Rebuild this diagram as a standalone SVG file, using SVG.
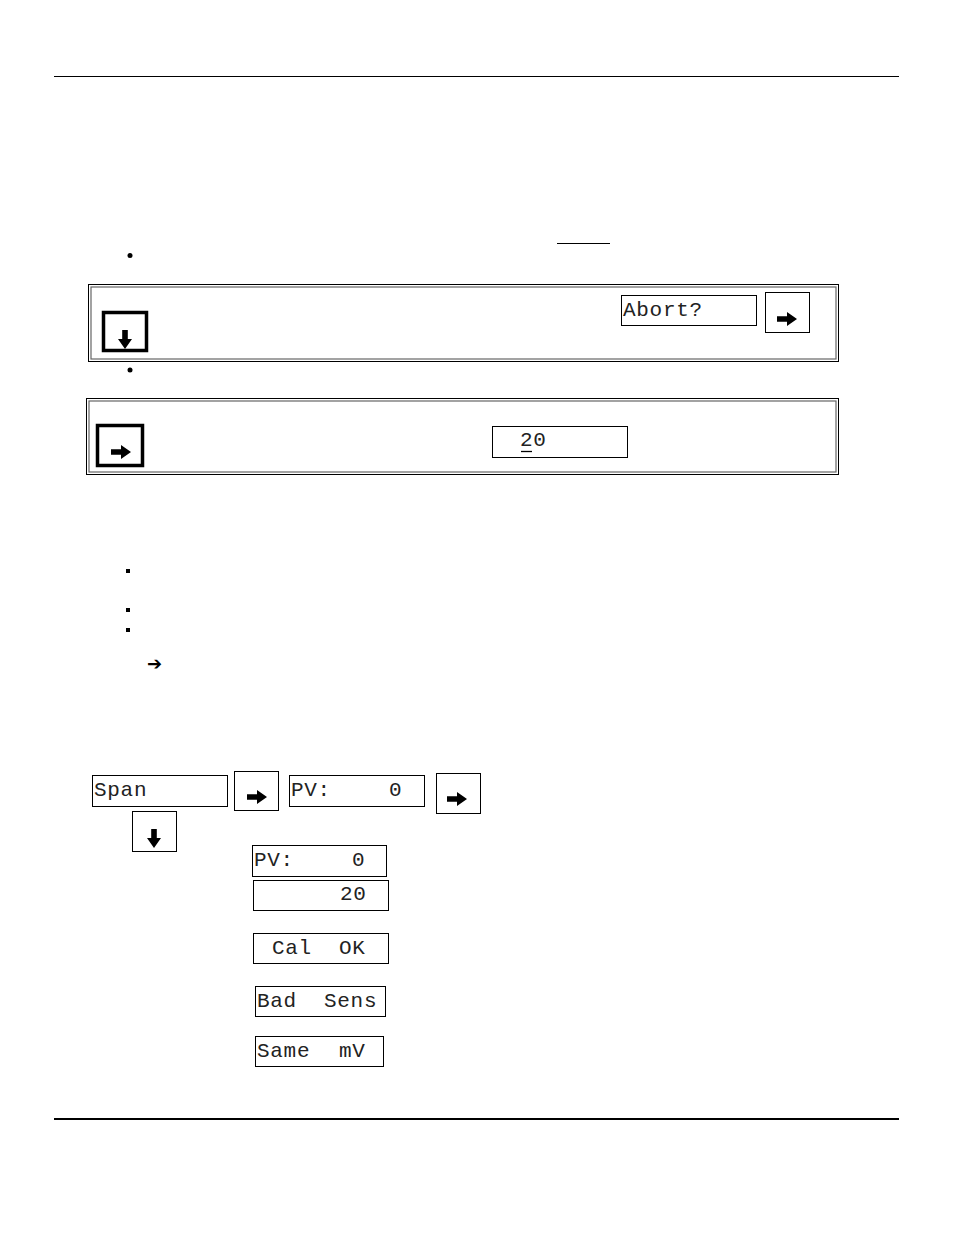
<svg xmlns="http://www.w3.org/2000/svg" xmlns:xlink="http://www.w3.org/1999/xlink" width="954" height="1235" viewBox="0 0 954 1235">
<style>
.lcd{font-family:"Liberation Mono","DejaVu Sans Mono",monospace;font-size:21px;letter-spacing:0.7px;fill:#222}
.box{fill:#fff;stroke:#000;stroke-width:1}
.btn{fill:#fff;stroke:#000;stroke-width:1}
.btnb{fill:#fff;stroke:#000;stroke-width:3.5}
.outer{fill:none;stroke:#000;stroke-width:1}
.inner{fill:none;stroke:#666;stroke-width:1.2}
</style>
<defs>
<path id="ra" d="M0,-2.8 H10 V-7 L20,0 L10,7 V2.8 H0 Z" fill="#000"/>
<path id="da" d="M-2.8,0 V9 H-7 L0,19 L7,9 H2.8 V0 Z" fill="#000"/>
</defs>
<rect width="954" height="1235" fill="#fff"/>
<line x1="54" y1="76.5" x2="899" y2="76.5" stroke="#000" stroke-width="1"/>
<line x1="54" y1="1119" x2="899" y2="1119" stroke="#000" stroke-width="2"/>
<line x1="557" y1="243.5" x2="610" y2="243.5" stroke="#000" stroke-width="1"/>
<circle cx="130" cy="255.5" r="2.5" fill="#000"/>
<circle cx="130" cy="370" r="2.5" fill="#000"/>
<rect x="126" y="569" width="4" height="4" fill="#000"/>
<rect x="126" y="608" width="4" height="4" fill="#000"/>
<rect x="126" y="628" width="4" height="4" fill="#000"/>
<text x="147" y="670" font-family="DejaVu Sans, sans-serif" font-size="18" font-weight="bold" fill="#000">➔</text>

<g id="panel1">
<rect class="outer" x="88.5" y="284.5" width="750" height="77"/>
<rect class="inner" x="91" y="287" width="745" height="72"/>
<g id="p1-down"><rect class="btnb" x="103.5" y="312.5" width="43" height="38"/><use xlink:href="#da" x="125" y="330"/></g>
<g id="p1-abort"><rect class="box" x="621.5" y="295.5" width="135" height="30"/><text class="lcd" x="623" y="316">Abort?</text></g>
<g id="p1-right"><rect class="btn" x="765.5" y="292.5" width="44" height="40"/><use xlink:href="#ra" x="777" y="319"/></g>
</g>

<g id="panel2">
<rect class="outer" x="86.5" y="398.5" width="752" height="76"/>
<rect class="inner" x="89" y="401" width="747" height="71"/>
<g id="p2-right"><rect class="btnb" x="97.5" y="425.5" width="45" height="40"/><use xlink:href="#ra" x="111" y="452"/></g>
<g id="p2-20"><rect class="box" x="492.5" y="426.5" width="135" height="31"/><text class="lcd" x="520" y="446">20</text><line x1="521" y1="451.5" x2="532" y2="451.5" stroke="#000" stroke-width="1.3"/></g>
</g>

<g id="span"><rect class="box" x="92.5" y="775.5" width="135" height="31"/><text class="lcd" x="94" y="796">Span</text></g>
<g id="btn-r1"><rect class="btn" x="234.5" y="771.5" width="44" height="39"/><use xlink:href="#ra" x="247" y="797"/></g>
<g id="pv1"><rect class="box" x="289.5" y="775.5" width="135" height="31"/><text class="lcd" x="291" y="796">PV:</text><text class="lcd" x="389" y="796">0</text></g>
<g id="btn-r2"><rect class="btn" x="436.5" y="773.5" width="44" height="40"/><use xlink:href="#ra" x="447" y="799"/></g>
<g id="btn-d"><rect class="btn" x="132.5" y="811.5" width="44" height="40"/><use xlink:href="#da" x="154" y="829"/></g>
<g id="pv2"><rect class="box" x="252.5" y="845.5" width="134" height="31"/><text class="lcd" x="254" y="866">PV:</text><text class="lcd" x="352" y="866">0</text></g>
<g id="v20"><rect class="box" x="253.5" y="880.5" width="135" height="30"/><text class="lcd" x="340" y="900">20</text></g>
<g id="calok"><rect class="box" x="253.5" y="933.5" width="135" height="30"/><text class="lcd" x="272" y="954">Cal</text><text class="lcd" x="339" y="954">OK</text></g>
<g id="badsens"><rect class="box" x="255.5" y="986.5" width="130" height="30"/><text class="lcd" x="257" y="1007">Bad</text><text class="lcd" x="324" y="1007">Sens</text></g>
<g id="samemv"><rect class="box" x="255.5" y="1036.5" width="128" height="30"/><text class="lcd" x="257" y="1057">Same</text><text class="lcd" x="339" y="1057">mV</text></g>
</svg>
